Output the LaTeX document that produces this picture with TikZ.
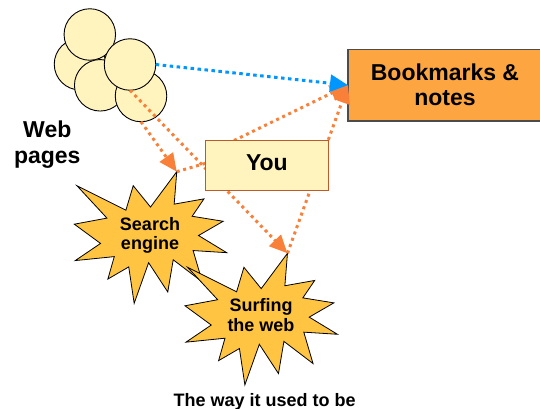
\documentclass[tikz,border=0pt]{standalone}
\usepackage{fontspec}
\setmainfont{Liberation Sans}
\usetikzlibrary{arrows.meta}
\definecolor{paleyel}{RGB}{255,243,190}
\definecolor{youedge}{RGB}{192,88,40}
\definecolor{stargold}{RGB}{255,197,66}
\definecolor{bookor}{RGB}{253,165,64}
\definecolor{dotor}{RGB}{248,128,56}
\definecolor{dotblue}{RGB}{0,150,255}
\newcommand\sealshape[1]{\draw[#1] (108,58) -- (145.22,0) -- (141.55,53.25) -- (183.80,44.57) -- (167.02,73.15) -- (210.97,81.37) -- (176.07,104.75) -- (216,132.90) -- (168.37,129.42) -- (181.45,180.95) -- (140.20,144.57) -- (132.47,197.37) -- (105.32,149.35) -- (84.85,216) -- (77.15,156.27) -- (47.62,176.17) -- (56.67,139.37) -- (1.35,145.87) -- (37.22,117.75) -- (0,86.15) -- (46.27,76.17) -- (3.70,22.95) -- (73.12,63.20) -- (83.52,22.95) -- cycle;}
\begin{document}
\begin{tikzpicture}[x=1pt,y=-1pt,
  page/.style={circle, draw=black, line width=0.9pt, fill=paleyel, minimum size=51.5pt, inner sep=0pt, outer sep=0pt},
  seal/.style={draw=black, line width=0.8pt, fill=stargold, line join=miter},
  starlbl/.style={font=\bfseries\fontsize{18}{19.8}\selectfont, inner sep=0pt, anchor=base},
  odot/.style={draw=dotor, line width=3pt, dash pattern=on 3pt off 3.7pt},
  bdot/.style={draw=dotblue, line width=3pt, dash pattern=on 3.5pt off 3.5pt},
  otip/.style={-{Triangle[length=18pt,width=16pt,fill=dotor]}},
  btip/.style={-{Triangle[length=18pt,width=17pt,fill=dotblue]}},
  bookbox/.style={draw=gray!60!black, line width=1.3pt, fill=bookor, minimum width=194pt, minimum height=71.7pt, align=center, font=\bfseries\fontsize{23}{25}\selectfont, inner sep=0pt, outer sep=0pt},
  youbox/.style={draw=youedge, line width=1pt, fill=paleyel, minimum width=122.3pt, minimum height=50pt, font=\bfseries\fontsize{23}{25}\selectfont, text height=16.5pt, text depth=6.5pt, inner sep=0pt, outer sep=0pt}
]
\useasboundingbox (0,0) rectangle (540,409);

% web pages stack
\node[page] (B) at (80,64.2) {};
\node[page] (A) at (89.8,34.5) {};
\node[page] (C) at (100.2,85.3) {};
\node[page] (E) at (141,96) {};
\node[page] (D) at (130,64.5) {};

% explosions
\sealshape{seal, shift={(74.3,171.7)}, xscale=0.70556, yscale=0.60926}
\coordinate (searchtip) at (176.76,171.7);
\node[starlbl] (search) at (150,230) {\begin{tabular}[t]{@{}c@{}}Search\\engine\end{tabular}};

\sealshape{seal, shift={(185,253.3)}, xscale=0.70556, yscale=0.60926}
\coordinate (surftip) at (287.46,253.3);
\node[starlbl] (surf) at (261,311.7) {\begin{tabular}[t]{@{}c@{}}Surfing\\the web\end{tabular}};

% bookmarks
\node[bookbox, anchor=west] (book) at (348,85.15) {Bookmarks \&\\notes};

% connectors
\coordinate (k1) at (210,162);
\coordinate (k2) at (232,141.5);
\draw[odot, otip] (D.south) -- (surftip);
\draw[odot, otip] (E.south) -- (searchtip);
\draw[odot, otip] (searchtip) -- (k1) -- (k2) -- (book.west);
\draw[odot, otip] (surftip) -- (book.west);
\draw[bdot, btip] (D.east) -- (book.west);

% you
\node[youbox] (you) at (266.9,165) {You};

% labels
\node[anchor=base, inner sep=0pt, font=\bfseries\fontsize{23}{26}\selectfont] (web) at (47.3,137.7) {\begin{tabular}[t]{@{}c@{}}Web\\pages\end{tabular}};
\node[anchor=base, inner sep=0pt, font=\bfseries\fontsize{18}{20}\selectfont] (caption) at (264.7,406.7) {The way it used to be};
\end{tikzpicture}
\end{document}
